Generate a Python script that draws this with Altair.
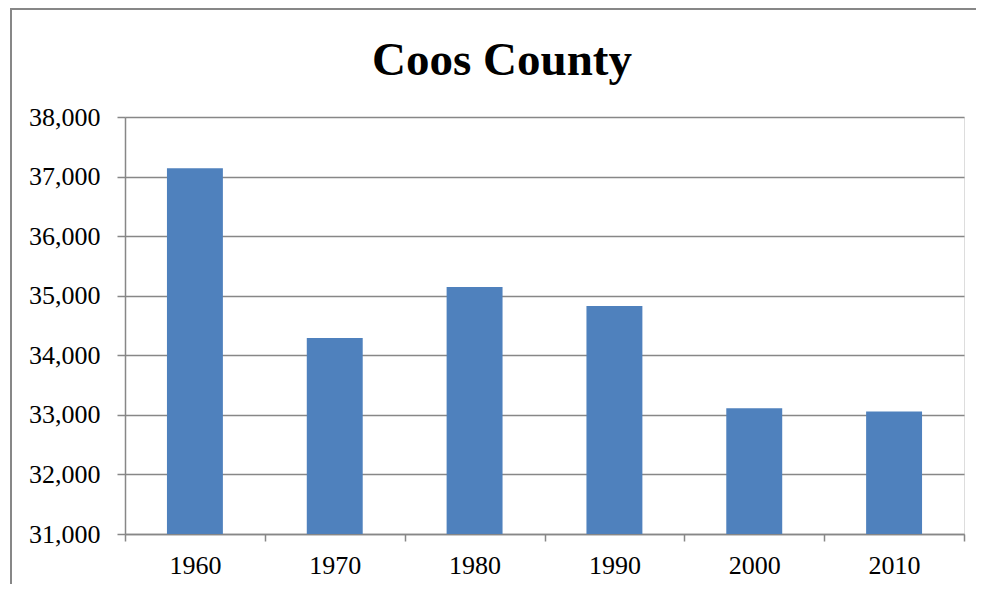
import altair as alt
import pandas as pd

title_text = "Coos County"
years = ["1960", "1970", "1980", "1990", "2000", "2010"]
population = [37140, 34291, 35147, 34828, 33111, 33055]
y_ticks = [31000, 32000, 33000, 34000, 35000, 36000, 37000, 38000]

df = pd.DataFrame({"year": years, "population": population})

GREY = "#878787"
FONT = "Liberation Serif"

bars = alt.Chart(df).mark_bar(color="#4F81BD", width=alt.RelativeBandSize(0.4)).encode(
    x=alt.X("year:N", sort=years,
            scale=alt.Scale(paddingInner=0, paddingOuter=0),
            axis=alt.Axis(title=None, labelAngle=0, tickBand="extent", grid=False,
                          domainColor=GREY, tickColor=GREY, tickSize=7, tickWidth=1.5,
                          domainWidth=1.5, labelFont=FONT, labelFontSize=26,
                          labelColor="black", labelPadding=11)),
    y=alt.Y("population:Q",
            scale=alt.Scale(domain=[31000, 38000], nice=False, zero=False),
            axis=alt.Axis(title=None, values=y_ticks, format=",d", grid=True,
                          gridColor=GREY, gridWidth=1.5, domainColor=GREY, domainWidth=1.5,
                          tickColor=GREY, tickSize=8, tickWidth=1.5,
                          labelFont=FONT, labelFontSize=26, labelColor="black",
                          labelPadding=17)),
    y2=alt.datum(31000),
)

left_border = alt.Chart(df).mark_rule(stroke=GREY, strokeWidth=2).encode(
    x=alt.value(-114), y=alt.value(-108), y2=alt.value(470)
)
top_border = alt.Chart(df).mark_rule(stroke=GREY, strokeWidth=2).encode(
    x=alt.value(-115), x2=alt.value(851), y=alt.value(-108)
)
title = alt.Chart(pd.DataFrame({"t": [title_text]})).mark_text(
    font=FONT, fontSize=47, fontWeight="bold", color="black",
    align="center", baseline="alphabetic"
).encode(text="t:N", x=alt.value(377), y=alt.value(-42))

chart = alt.layer(left_border, top_border, title, bars).properties(
    width=839, height=417,
    autosize=alt.AutoSizeParams(type="none"),
    padding={"left": 117, "top": 109, "right": 12, "bottom": 50},
).configure_view(stroke=None).configure(background="white")

chart.save("out.html", embed_options={"renderer": "svg", "actions": False})
